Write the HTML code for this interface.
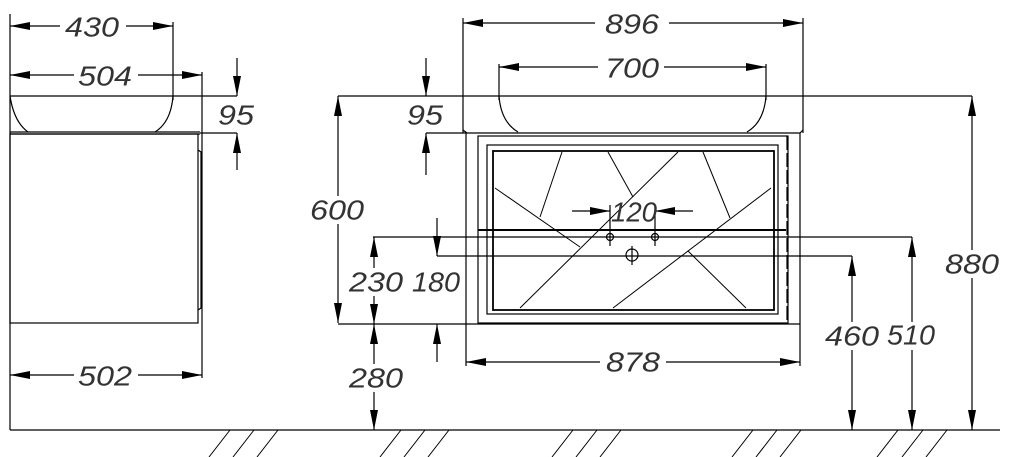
<!DOCTYPE html>
<html><head><meta charset="utf-8"><style>
html,body{margin:0;padding:0;background:#fff;}
svg{display:block;}
text{font-family:"Liberation Sans",sans-serif;font-style:italic;font-size:28px;fill:#333;text-anchor:middle;dominant-baseline:central;}
</style></head><body>
<svg width="1009" height="457" viewBox="0 0 1009 457" xmlns="http://www.w3.org/2000/svg">
<defs>
<marker id="a" viewBox="0 0 20 8" refX="20" refY="4" markerWidth="20" markerHeight="8" markerUnits="userSpaceOnUse" orient="auto-start-reverse">
<path d="M0,0 L20,4 L0,8 Z" fill="#000"/></marker>
</defs>
<g stroke="#000" stroke-width="1.2" fill="none">
<line x1="10" y1="430" x2="1000" y2="430"/>
<g stroke-width="1">
<path d="M209,457 L230,430 M233,457 L254,430 M257,457 L278,430"/>
<path d="M380,457 L401,430 M404,457 L425,430 M428,457 L449,430"/>
<path d="M552,457 L573,430 M576,457 L597,430 M600,457 L621,430"/>
<path d="M732,457 L753,430 M756,457 L777,430 M780,457 L801,430"/>
<path d="M877,457 L898,430 M902,457 L923,430 M926,457 L947,430"/>
</g>
<line x1="10" y1="14" x2="10" y2="430"/>
<line x1="173" y1="22" x2="173" y2="100"/>
<line x1="202" y1="72" x2="202" y2="378"/>
<path d="M10,96 L237,96"/>
<path d="M10,96 Q14,122 28,132 M173,96 Q171,122 155,132"/>
<path d="M10,132 L200,132 M10,134 L200,134"/>
<rect x="10" y="134" width="188" height="189"/>
<path d="M198,150 L201,152 L201,308 L198,310"/>
<line x1="200" y1="133" x2="237" y2="133"/>
<line x1="10" y1="26" x2="173" y2="26" marker-start="url(#a)" marker-end="url(#a)"/>
<line x1="10" y1="75" x2="202" y2="75" marker-start="url(#a)" marker-end="url(#a)"/>
<line x1="10" y1="375" x2="202" y2="375" marker-start="url(#a)" marker-end="url(#a)"/>
<line x1="237" y1="58" x2="237" y2="96" marker-end="url(#a)"/>
<line x1="237" y1="170" x2="237" y2="133" marker-end="url(#a)"/>
<line x1="338" y1="96" x2="972" y2="96"/>
<line x1="338" y1="96" x2="338" y2="323" marker-start="url(#a)" marker-end="url(#a)"/>
<line x1="338" y1="324" x2="800" y2="324"/>
<line x1="426" y1="58" x2="426" y2="96" marker-end="url(#a)"/>
<line x1="426" y1="175" x2="426" y2="133" marker-end="url(#a)"/>
<line x1="426" y1="133" x2="466" y2="133"/>
<line x1="463" y1="18" x2="463" y2="133"/>
<line x1="803" y1="18" x2="803" y2="133"/>
<line x1="463" y1="23" x2="803" y2="23" marker-start="url(#a)" marker-end="url(#a)"/>
<line x1="499" y1="64" x2="499" y2="100"/>
<line x1="766" y1="64" x2="766" y2="100"/>
<line x1="499" y1="67" x2="766" y2="67" marker-start="url(#a)" marker-end="url(#a)"/>
<path d="M499,96 Q501,122 518,132 M766,96 Q764,122 747,132"/>
<path d="M463,130 L467,133 L800,133 L803,130"/>
<path d="M466,133 L466,324 M800,133 L800,324"/>
<rect x="478" y="136" width="310" height="187"/>
<rect x="487" y="145" width="291" height="169"/>
<rect x="493" y="151" width="281" height="159" stroke-width="1.8"/>
<line x1="787" y1="136" x2="787" y2="323" stroke-dasharray="14,3"/>
<g stroke-width="1">
<line x1="495" y1="188" x2="580" y2="247"/>
<line x1="520" y1="308" x2="678" y2="152"/>
<line x1="613" y1="308" x2="771" y2="188"/>
<line x1="688" y1="251" x2="746" y2="308"/>
<line x1="562" y1="152" x2="540" y2="217"/>
<line x1="608" y1="152" x2="633" y2="197"/>
<line x1="703" y1="152" x2="730" y2="218"/>
</g>
<line x1="478" y1="230" x2="786" y2="230" stroke-width="2"/>
<line x1="610" y1="205" x2="610" y2="246"/>
<line x1="655" y1="205" x2="655" y2="246"/>
<line x1="572" y1="211" x2="610" y2="211" marker-end="url(#a)"/>
<line x1="693" y1="211" x2="655" y2="211" marker-end="url(#a)"/>
<circle cx="610" cy="237" r="3.5"/>
<circle cx="655" cy="237" r="3.5"/>
<circle cx="632" cy="255" r="6"/>
<line x1="632" y1="246" x2="632" y2="265"/>
<line x1="373" y1="237" x2="912" y2="237"/>
<line x1="437" y1="256" x2="852" y2="256"/>
<line x1="374" y1="237" x2="374" y2="324" marker-start="url(#a)" marker-end="url(#a)"/>
<line x1="374" y1="324" x2="374" y2="430" marker-start="url(#a)" marker-end="url(#a)"/>
<line x1="437" y1="218" x2="437" y2="256" marker-end="url(#a)"/>
<line x1="437" y1="362" x2="437" y2="324" marker-end="url(#a)"/>
<line x1="466" y1="324" x2="466" y2="366"/>
<line x1="800" y1="324" x2="800" y2="366"/>
<line x1="466" y1="362" x2="800" y2="362" marker-start="url(#a)" marker-end="url(#a)"/>
<line x1="852" y1="256" x2="852" y2="430" marker-start="url(#a)" marker-end="url(#a)"/>
<line x1="912" y1="237" x2="912" y2="430" marker-start="url(#a)" marker-end="url(#a)"/>
<line x1="972" y1="96" x2="972" y2="430" marker-start="url(#a)" marker-end="url(#a)"/>
</g>
<g fill="#fff">
<rect x="60" y="12" width="66" height="28"/>
<rect x="74" y="61" width="64" height="28"/>
<rect x="74" y="361" width="64" height="28"/>
<rect x="307" y="196" width="62" height="28"/>
<rect x="595" y="9" width="74" height="28"/>
<rect x="598" y="53" width="66" height="28"/>
<rect x="600" y="348" width="66" height="28"/>
<rect x="345" y="268" width="110" height="28"/>
<rect x="345" y="364" width="60" height="28"/>
<rect x="823" y="322" width="118" height="28"/>
<rect x="942" y="250" width="60" height="28"/>
</g>
<g lengthAdjust="spacingAndGlyphs">
<text x="92" y="27" textLength="54" lengthAdjust="spacingAndGlyphs">430</text>
<text x="105" y="76" textLength="54" lengthAdjust="spacingAndGlyphs">504</text>
<text x="236" y="115" textLength="36" lengthAdjust="spacingAndGlyphs">95</text>
<text x="105" y="376" textLength="54" lengthAdjust="spacingAndGlyphs">502</text>
<text x="337" y="210" textLength="54" lengthAdjust="spacingAndGlyphs">600</text>
<text x="425" y="115" textLength="36" lengthAdjust="spacingAndGlyphs">95</text>
<text x="632" y="24" textLength="54" lengthAdjust="spacingAndGlyphs">896</text>
<text x="632" y="68" textLength="54" lengthAdjust="spacingAndGlyphs">700</text>
<text x="634" y="212" textLength="46" lengthAdjust="spacingAndGlyphs">120</text>
<text x="376" y="282" textLength="54" lengthAdjust="spacingAndGlyphs">230</text>
<text x="436" y="282" textLength="48" lengthAdjust="spacingAndGlyphs">180</text>
<text x="376" y="378" textLength="54" lengthAdjust="spacingAndGlyphs">280</text>
<text x="633" y="362" textLength="54" lengthAdjust="spacingAndGlyphs">878</text>
<text x="852" y="336" textLength="54" lengthAdjust="spacingAndGlyphs">460</text>
<text x="911" y="335" textLength="48" lengthAdjust="spacingAndGlyphs">510</text>
<text x="972" y="264" textLength="54" lengthAdjust="spacingAndGlyphs">880</text>
</g>
</svg>
</body></html>
